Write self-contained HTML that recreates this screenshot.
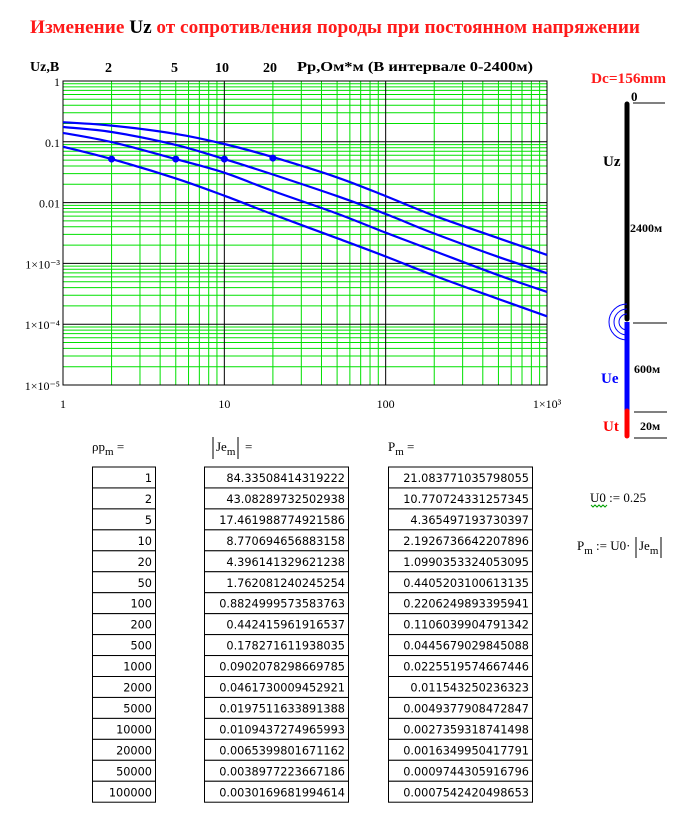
<!DOCTYPE html>
<html><head><meta charset="utf-8"><style>
html,body{margin:0;padding:0;background:#fff;width:684px;height:814px;overflow:hidden}
svg{display:block}
</style></head><body>
<svg id="s" width="684" height="814" xmlns="http://www.w3.org/2000/svg">
<text x="30" y="33" textLength="610" lengthAdjust="spacingAndGlyphs" font-family="Liberation Serif, serif" font-weight="bold" font-size="19" fill="#ff1a1a">Изменение <tspan fill="#000">Uz</tspan> от сопротивления породы при постоянном напряжении</text>
<g font-family="Liberation Serif, serif" font-weight="bold" font-size="14" fill="#000">
<text x="30" y="71">Uz,B</text>
<text x="105" y="72">2</text>
<text x="171" y="72">5</text>
<text x="215" y="72">10</text>
<text x="263" y="72">20</text>
<text x="297" y="71" textLength="236" lengthAdjust="spacingAndGlyphs">Pp,Ом*м  (В интервале 0-2400м)</text>
</g>
<g id="plot"></g>
<g>
<text x="591" y="83" textLength="75" lengthAdjust="spacingAndGlyphs" font-family="Liberation Serif, serif" font-weight="bold" font-size="15" fill="#ff1a1a">Dc=156mm</text>
<text x="631" y="101" font-family="Liberation Serif, serif" font-weight="bold" font-size="13">0</text>
<line x1="633" y1="103" x2="665" y2="103" stroke="#000"/>
<line x1="633" y1="323" x2="667" y2="323" stroke="#000"/>
<line x1="634" y1="412" x2="667" y2="412" stroke="#000"/>
<line x1="634" y1="438" x2="667" y2="438" stroke="#000"/>
<path d="M627 319 L627 104" stroke="#000" stroke-width="5" stroke-linecap="round"/>
<rect x="624.5" y="322" width="5" height="89" fill="#0000ff"/>
<path d="M627 411 L627 436" stroke="#ff0000" stroke-width="5" stroke-linecap="round"/>
<g fill="none" stroke="#0000ff" stroke-width="1">
<path d="M627 314 A8 8 0 0 0 627 330"/><path d="M627 309 A13 13 0 0 0 627 335"/><path d="M627 304 A18 18 0 0 0 627 340"/>
</g>
<g font-family="Liberation Serif, serif" font-weight="bold">
<text x="603" y="166" font-size="15">Uz</text>
<text x="630" y="232" font-size="12">2400м</text>
<text x="634" y="373" font-size="12">600м</text>
<text x="601" y="383" font-size="15" fill="#0000ff">Ue</text>
<text x="603" y="431" font-size="15" fill="#ff0000">Ut</text>
<text x="640" y="430" font-size="12">20м</text>
</g>
</g>
<g font-family="Liberation Serif, serif" font-size="13">
<text x="92" y="451">ρp<tspan font-size="11" dy="4">m</tspan><tspan dy="-4"> =</tspan></text>
<line x1="213" y1="437" x2="213" y2="459" stroke="#000"/>
<text x="216" y="451">Je<tspan font-size="11" dy="4">m</tspan></text>
<line x1="238" y1="437" x2="238" y2="459" stroke="#000"/>
<text x="245" y="451">=</text>
<text x="388" y="451">P<tspan font-size="11" dy="4">m</tspan><tspan dy="-4"> =</tspan></text>
<text x="590" y="502">U0 := 0.25</text>
<path d="M591 505 l2 2 l2 -2 l2 2 l2 -2 l2 2 l2 -2 l2 2 l2 -2" fill="none" stroke="#00a000" stroke-width="1"/>
<text x="577" y="550">P<tspan font-size="11" dy="4">m</tspan><tspan dy="-4"> := U0· </tspan></text>
<line x1="636" y1="537" x2="636" y2="558" stroke="#000"/>
<text x="639" y="550">Je<tspan font-size="11" dy="4">m</tspan></text>
<line x1="661" y1="537" x2="661" y2="558" stroke="#000"/>
</g>
<g id="tables"></g>
</svg>
<script>
const NS="http://www.w3.org/2000/svg";
const xVals=[1,2,5,10,20,50,100,200,500,1000];
const curve1=[0.21,0.185,0.135,0.092,0.056,0.026,0.0128,0.0061,0.0026,0.00138];
const curve2=[0.175,0.145,0.089,0.052,0.029,0.0128,0.0065,0.0031,0.00128,0.00069];
const curve3=[0.14,0.099,0.052,0.031,0.0155,0.0066,0.0032,0.0016,0.00064,0.00034];
const curve4=[0.083,0.052,0.025,0.013,0.0064,0.0026,0.0013,0.00063,0.00026,0.000135];
const markerX=[2,5,10,20];
const markerY=[0.052,0.052,0.052,0.054];
const xTickLabels=["1","10","100","1×10³"];
const yTickLabels=["1","0.1","0.01","1×10⁻³","1×10⁻⁴","1×10⁻⁵"];
const rhoCol=["1","2","5","10","20","50","100","200","500","1000","2000","5000","10000","20000","50000","100000"];
const jeCol=["84.33508414319222","43.08289732502938","17.461988774921586","8.770694656883158","4.396141329621238","1.762081240245254","0.8824999573583763","0.442415961916537","0.178271611938035","0.0902078298669785","0.0461730009452921","0.0197511633891388","0.0109437274965993","0.0065399801671162","0.0038977223667186","0.0030169681994614"];
const pCol=["21.083771035798055","10.770724331257345","4.365497193730397","2.1926736642207896","1.0990353324053095","0.4405203100613135","0.2206249893395941","0.1106039904791342","0.0445679029845088","0.0225519574667446","0.011543250236323","0.0049377908472847","0.0027359318741498","0.0016349950417791","0.0009744305916796","0.0007542420498653"];

const X0=63,X1=547,Y0=81,Y1=385;
const sx=v=>X0+Math.log10(v)/3*(X1-X0);
const sy=v=>Y0+(-Math.log10(v))/5*(Y1-Y0);
const plot=document.getElementById('plot');
function mk(tag,attrs,parent){const e=document.createElementNS(NS,tag);for(const k in attrs)e.setAttribute(k,attrs[k]);parent.appendChild(e);return e;}
for(let d=0;d<3;d++)for(let m=2;m<=9;m++){const x=sx(m*Math.pow(10,d));
const l=mk('line',{x1:x,y1:Y0,x2:x,y2:Y1,stroke:'#00e000','stroke-width':1},plot);

}
for(let d=-5;d<0;d++)for(let m=2;m<=9;m++){const y=sy(m*Math.pow(10,d));
const l=mk('line',{x1:X0,y1:y,x2:X1,y2:y,stroke:'#00e000','stroke-width':1},plot);

}
for(let d=0;d<=3;d++){const x=sx(Math.pow(10,d));
const l=mk('line',{x1:x,y1:Y0,x2:x,y2:Y1,stroke:'#000','stroke-width':1},plot);


const t=mk('text',{x:x,y:408,'text-anchor':'middle','font-family':'Liberation Serif, serif','font-size':12},plot);
t.textContent=xTickLabels[d];

}
for(let d=0;d<=5;d++){const y=sy(Math.pow(10,-d));
const l=mk('line',{x1:X0,y1:y,x2:X1,y2:y,stroke:'#000','stroke-width':1},plot);


const t=mk('text',{x:60,y:y+5,'text-anchor':'end','font-family':'Liberation Serif, serif','font-size':12},plot);
t.textContent=yTickLabels[d];

}
mk('rect',{x:X0,y:Y0,width:X1-X0,height:Y1-Y0,fill:'none',stroke:'#000'},plot);
function smooth(pts){let d='M'+pts[0][0].toFixed(1)+' '+pts[0][1].toFixed(1);
for(let i=0;i<pts.length-1;i++){const p0=pts[Math.max(0,i-1)],p1=pts[i],p2=pts[i+1],p3=pts[Math.min(pts.length-1,i+2)];
const c1=[p1[0]+(p2[0]-p0[0])/6,p1[1]+(p2[1]-p0[1])/6],c2=[p2[0]-(p3[0]-p1[0])/6,p2[1]-(p3[1]-p1[1])/6];
d+=' C'+c1.map(v=>v.toFixed(1)).join(' ')+' '+c2.map(v=>v.toFixed(1)).join(' ')+' '+p2[0].toFixed(1)+' '+p2[1].toFixed(1);}
return d;}
[curve1,curve2,curve3,curve4].forEach((c,i)=>{
const pts=c.map((v,j)=>[sx(xVals[j]),sy(v)]);
const p=mk('path',{d:smooth(pts),fill:'none',stroke:'#0000ff','stroke-width':2.2},plot);

});
markerX.forEach((v,i)=>{const c=mk('circle',{cx:sx(v),cy:sy(markerY[i]),r:3.5,fill:'#0000ff'},plot);

});
const tb=document.getElementById('tables');
const cols=[[rhoCol,92,63],[jeCol,204,144],[pCol,388,144]];
const RY=467,RH=20.95;
cols.forEach(([arr,x,w],ci)=>{arr.forEach((v,r)=>{const y=RY+r*RH;
const rc=mk('rect',{x:x+0.5,y:y,width:w,height:RH,fill:'#fff',stroke:'#000'},tb);


const t=mk('text',{x:x+w-3,y:y+15,'text-anchor':'end','font-family':'DejaVu Sans, sans-serif','font-size':11.3},tb);
t.textContent=v;

});});
</script>
</body></html>
